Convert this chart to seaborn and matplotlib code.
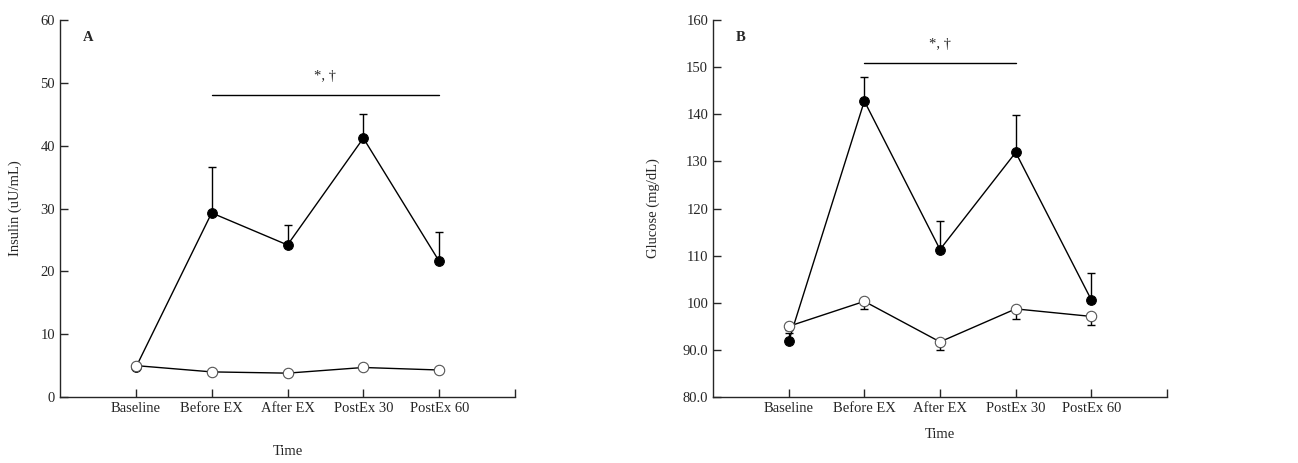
import numpy as np
import pandas as pd
import matplotlib
matplotlib.use('Agg')
import matplotlib.pyplot as plt
import seaborn as sns

# %%
times = ['Baseline', 'Before EX', 'After EX', 'PostEx 30', 'PostEx 60']

insulin_filled = [4.7, 29.3, 24.2, 41.2, 21.6]
insulin_filled_err = [0.3, 7.3, 3.2, 3.8, 4.7]
insulin_open = [5.0, 4.0, 3.8, 4.7, 4.3]
insulin_open_err = [0.2, 0.2, 0.2, 0.2, 0.2]

glucose_filled = [91.8, 142.8, 111.3, 131.9, 100.6]
glucose_filled_err = [1.8, 5.2, 6.0, 7.9, 5.8]
glucose_open = [95.0, 100.3, 91.7, 98.7, 97.1]
glucose_open_err = [0.8, 1.7, 1.7, 2.2, 1.9]

glucose_ticklabels = ['80.0', '90.0', '100', '110', '120', '130', '140', '150', '160']

# %%
sns.set_style('ticks')
plt.rcParams['font.family'] = ['Liberation Serif', 'DejaVu Serif']
plt.rcParams['font.size'] = 10.5


def draw_panel(ax, filled, filled_err, opn, opn_err):
    pos = np.arange(len(times))
    df_f = pd.DataFrame({'x': pos, 'y': filled})
    df_o = pd.DataFrame({'x': pos, 'y': opn})

    # filled group: error upwards
    ax.errorbar(pos, filled, yerr=[np.zeros(len(pos)), filled_err], fmt='none',
                ecolor='black', elinewidth=1, capsize=3, capthick=1, zorder=1)
    sns.lineplot(data=df_f, x='x', y='y', ax=ax, color='black', linewidth=1,
                 marker='o', markersize=7, markerfacecolor='black',
                 markeredgecolor='black', sort=False, zorder=2)
    # open group: error downwards
    ax.errorbar(pos, opn, yerr=[opn_err, np.zeros(len(pos))], fmt='none',
                ecolor='black', elinewidth=1, capsize=3, capthick=1, zorder=3)
    sns.lineplot(data=df_o, x='x', y='y', ax=ax, color='black', linewidth=1,
                 marker='o', markersize=7.5, markerfacecolor='white',
                 markeredgecolor='#555555', markeredgewidth=0.8, sort=False, zorder=4)

    ax.set_xlim(-1, 5)
    ax.set_xticks(pos)
    ax.set_xticklabels(times)
    ax.set_xticks([5], minor=True)
    ax.tick_params(axis='both', which='both', direction='in', length=6, width=1)
    sns.despine(ax=ax)
    for s in ['left', 'bottom']:
        ax.spines[s].set_linewidth(1)
    ax.set_xlabel('Time')


fig = plt.figure(figsize=(12.98, 4.63), dpi=100)
axA = fig.add_axes([0.0462, 0.1425, 0.3506, 0.8143])
axB = fig.add_axes([0.5493, 0.1425, 0.3498, 0.8143])

# %%
draw_panel(axA, insulin_filled, insulin_filled_err, insulin_open, insulin_open_err)
axA.set_ylim(0, 60)
axA.set_yticks(range(0, 61, 10))
axA.set_ylabel('Insulin (uU/mL)')
axA.yaxis.set_label_coords(-0.084, 0.5)
axA.xaxis.set_label_coords(0.5, -0.128)
axA.plot([1, 4], [48, 48], color='black', linewidth=1)
axA.text(2.5, 51, '*, \u2020', ha='center', va='center')
axA.text(-0.63, 57.2, 'A', fontweight='bold', ha='center', va='center')

# %%
draw_panel(axB, glucose_filled, glucose_filled_err, glucose_open, glucose_open_err)
axB.set_ylim(80, 160)
axB.set_yticks(range(80, 161, 10))
axB.set_yticklabels(glucose_ticklabels)
axB.set_ylabel('Glucose (mg/dL)')
axB.yaxis.set_label_coords(-0.117, 0.5)
axB.xaxis.set_label_coords(0.5, -0.082)
axB.plot([1, 3], [150.9, 150.9], color='black', linewidth=1)
axB.text(2, 154.8, '*, \u2020', ha='center', va='center')
axB.text(-0.63, 156.2, 'B', fontweight='bold', ha='center', va='center')

fig.savefig('out.png', dpi=100)
